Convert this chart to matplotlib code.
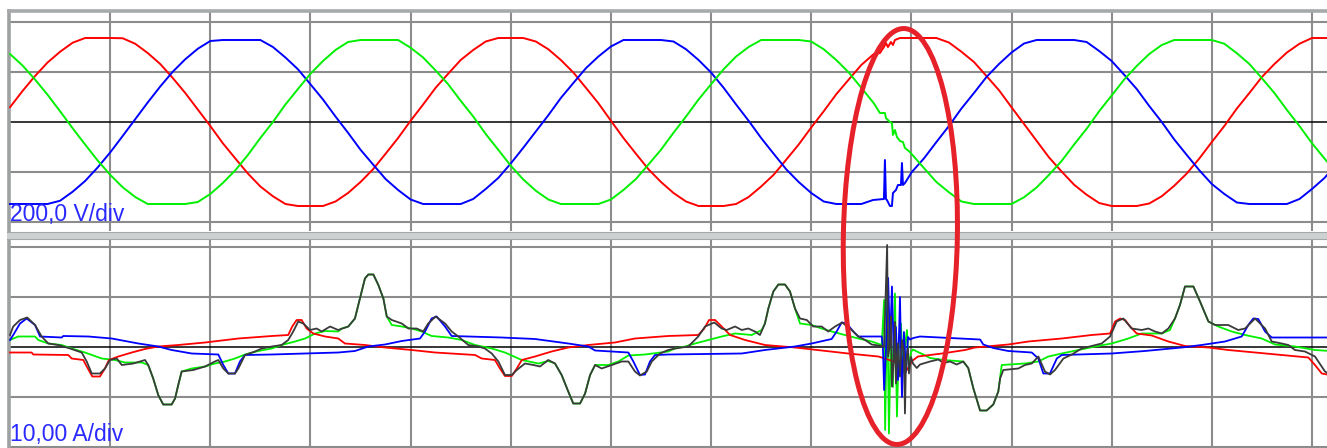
import numpy as np
import matplotlib
matplotlib.use("Agg")
import matplotlib.pyplot as plt
from matplotlib.patches import Ellipse, Rectangle
from matplotlib.transforms import IdentityTransform

# ------------------------------------------------------------------
# Phase-to-neutral voltages (V), one sample every 0.625 ms
# ------------------------------------------------------------------
T_STEP_V = 0.625
v_red = [59, 124, 184, 238, 281, 317, 336, 336, 336, 335, 313, 276, 232, 176, 116, 50,
         -16, -85, -146, -206, -258, -297, -328, -336, -336, -336, -318, -284, -240, -189,
         -127, -64, 5, 70, 137, 193, 248, 288, 322, 336, 336, 336, 322, 291, 248, 198,
         137, 75, 5, -64, -127, -189, -240, -284, -318, -336, -336, -336, -328, -300,
         -258, -211, -151, -90, -22, 43, 111, 170, 228, 272, 310, 336, 336, 336, 336, 318,
         281, 240, 184, 127, 59, -8, -75, -142, -198, -251, -291, -324, -336, -336, -336,
         -326, -297, -255, -206, -146, -80, -16, 54, 116, 180, 232, 278, 313, 336, 336, 336]
v_blue = [-328, -328, -328, -328, -315, -279, -236, -182, -122, -56, 11, 78, 142, 201,
          251, 293, 324, 328, 328, 328, 328, 300, 258, 211, 151, 90, 22, -43, -111, -170,
          -228, -272, -310, -328, -328, -328, -328, -308, -268, -224, -166, -103, -38, 27,
          96, 156, 215, 262, 302, 328, 328, 328, 328, 322, 291, 248, 198, 137, 70, 5,
          -64, -127, -189, -240, -284, -318, -328, -328, -328, -326, -294, -260, -202, -146,
          -80, -16, 54, 116, 180, 232, 278, 314, 328, 328, 328, 328, 320, 284, 244, 189,
          132, 64, 0, -70, -132, -193, -248, -288, -322, -328, -328, -328, -328, -308,
          -268, -224, -166]
v_green = [272, 226, 170, 109, 43, -25, -90, -154, -211, -261, -300, -328, -328, -328,
           -328, -320, -288, -244, -193, -132, -64, 0, 70, 132, 193, 244, 288, 320, 328,
           328, 328, 328, 297, 258, 206, 151, 85, 22, -48, -111, -175, -230, -275, -310,
           -328, -328, -328, -328, -310, -272, -228, -170, -111, -43, 22, 90, 151, 211,
           262, 300, 328, 328, 328, 328, 322, 291, 248, 198, 137, 75, 5, -60, -127, -184,
           -240, -281, -318, -328, -328, -328, -328, -301, -262, -211, -156, -90, -27, 43,
           106, 170, 224, 272, 308, 328, 328, 328, 328, 313, 275, 232, 175, 116, 48, -16,
           -85, -146, -206]

# Voltage detail during the switching transient (ms, V)
v_red_fault = [(43.43, 276), (43.63, 300), (43.73, 316), (43.83, 300), (43.98, 320),
               (44.08, 308), (44.18, 328), (44.43, 336), (44.93, 336)]
v_blue_fault = [(43.09, -312), (43.63, -308), (43.68, -152), (43.73, -308), (43.78, -312),
                (43.93, -336), (44.03, -336), (44.08, -284), (44.23, -272), (44.33, -252),
                (44.48, -252), (44.53, -164), (44.58, -252), (44.68, -244), (44.93, -212)]
v_green_fault = [(43.43, 36), (43.68, 36), (43.73, 16), (43.93, 0), (44.03, -4),
                 (44.08, -52), (44.18, -32), (44.28, -60), (44.43, -76), (44.58, -80),
                 (44.68, -104), (44.93, -120)]

# ------------------------------------------------------------------
# Currents (ms, A)
# ------------------------------------------------------------------
i_red = [
    (0.00, -1.1), (1.08, -1.1), (1.16, -1.5), (2.91, -1.6), (3.08, -2.3), (3.66, -2.6),
    (3.83, -3.9), (4.11, -5.9), (4.49, -5.9), (4.74, -4.3), (4.94, -2.6), (5.41, -1.9),
    (6.08, -1.1), (6.74, -0.4), (7.40, 0.1), (8.40, 0.4), (9.74, 0.9), (11.40, 1.7),
    (13.07, 2.2), (13.89, 2.4), (14.09, 4.1), (14.31, 5.4), (14.56, 5.4), (14.81, 3.7),
    (15.14, 2.7), (15.73, 2.1), (16.39, 1.7), (16.72, 0.7), (17.72, 0.4), (18.72, -0.1),
    (20.05, -0.6), (21.22, -1.1), (23.22, -1.6), (23.55, -2.3), (24.21, -2.6), (24.46, -4.3),
    (24.71, -5.8), (25.05, -5.8), (25.30, -4.3), (25.55, -2.6), (26.21, -1.9), (27.04, -0.9),
    (27.87, -0.1), (28.87, 0.4), (30.20, 0.9), (31.20, 1.7), (32.86, 2.2), (34.36, 2.4),
    (34.66, 3.7), (34.90, 5.4), (35.20, 5.4), (35.53, 4.1), (35.95, 2.4), (36.70, 1.4),
    (37.69, 0.4), (39.19, -0.1), (40.52, -0.7), (41.85, -1.3), (43.35, -1.9), (43.68, -2.3),
    (44.18, -3.0), (44.53, -4.8), (44.78, -4.6), (45.03, -2.8), (45.33, -1.9), (46.53, -1.3),
    (47.68, -0.6), (48.18, -0.1), (49.84, 0.5), (50.84, 1.1), (52.51, 1.7), (54.00, 2.4),
    (54.92, 2.7), (55.17, 5.1), (55.42, 5.7), (55.67, 5.4), (55.92, 4.1), (56.25, 2.7),
    (57.00, 2.3), (57.83, 1.1), (58.66, 0.2), (59.83, -0.1), (60.82, -0.6), (62.16, -1.1),
    (63.49, -1.6), (64.82, -2.1), (65.15, -3.6), (65.49, -5.3), (65.90, -5.6),
]
i_blue = [
    (0.00, 1.4), (0.16, 2.4), (0.50, 4.7), (0.83, 5.7), (1.25, 4.4), (1.50, 2.1),
    (2.58, 1.9), (2.66, 2.2), (3.91, 2.1), (5.08, 1.7), (6.41, 0.7), (7.40, 0.1),
    (8.07, -0.6), (9.07, -1.3), (10.40, -1.5), (10.65, -3.6), (10.90, -5.3), (11.23, -5.3),
    (11.48, -2.9), (11.73, -1.6), (13.07, -1.5), (14.73, -1.3), (16.39, -1.1), (17.22, -0.8),
    (17.89, 0.1), (18.72, 0.5), (19.56, 1.2), (20.47, 1.7), (20.72, 3.1), (21.05, 5.7),
    (21.30, 6.1), (21.72, 4.1), (22.05, 2.2), (24.55, 1.9), (26.21, 1.6), (27.87, 0.7),
    (28.87, 0.1), (29.21, -0.7), (30.87, -1.1), (31.12, -2.9), (31.45, -5.6), (31.70, -5.5),
    (31.95, -2.9), (32.20, -1.6), (32.86, -1.5), (36.53, -1.3), (37.69, -0.6), (39.19, 0.1),
    (40.02, 0.7), (41.02, 1.6), (41.27, 3.1), (41.52, 4.9), (41.77, 4.7), (42.10, 3.1),
    (42.35, 2.1), (43.52, 2.1),
    (43.58, 0.0), (43.64, -8.6), (43.74, 0.0), (43.84, 13.8), (43.93, 0.1), (44.03, 12.1),
    (44.13, -2.6), (44.23, 4.0), (44.33, -6.6), (44.43, 10.0), (44.53, -10.0), (44.63, 3.0),
    (44.73, -5.0), (44.83, 2.0), (44.93, 1.5),
    (45.10, 1.8), (45.43, 2.1), (48.43, 1.5), (48.59, 0.5), (49.09, -0.2), (49.84, -0.8),
    (51.01, -1.1), (51.34, -2.3), (51.59, -5.3), (51.92, -5.3), (52.26, -2.3), (52.51, -1.6),
    (55.00, -1.3), (56.66, -0.8), (58.50, -0.1), (59.49, 0.4), (60.66, 1.1), (61.49, 2.1),
    (61.82, 4.4), (62.07, 5.7), (62.32, 5.6), (62.66, 3.1), (62.99, 1.9), (65.90, 1.9),
]
i_green = [
    (0.00, 1.4), (0.41, 2.1), (1.25, 2.1), (1.41, 1.4), (1.91, 0.7), (2.58, 0.4),
    (3.08, -0.3), (3.74, -1.1), (4.58, -2.3), (5.24, -2.6), (5.74, -3.1), (6.58, -3.1),
    (6.90, -3.6), (7.15, -6.3), (7.40, -9.6), (7.65, -11.5), (8.07, -11.5), (8.24, -10.3),
    (8.40, -7.6), (8.57, -4.9), (9.07, -4.3), (9.74, -3.9), (10.23, -3.3), (10.73, -2.9),
    (11.23, -2.3), (11.73, -1.5), (12.40, -0.8), (13.07, -0.3), (13.56, 0.4), (14.23, 1.1),
    (14.73, 1.7), (15.23, 2.7), (15.73, 3.2), (16.39, 3.1), (16.56, 3.7), (16.89, 4.1),
    (17.22, 5.7), (17.47, 9.7), (17.72, 13.7), (17.89, 14.5), (18.14, 14.5), (18.39, 12.4),
    (18.64, 9.7), (18.81, 6.1), (19.06, 4.4), (19.56, 4.1), (20.05, 3.7), (20.55, 3.1),
    (21.05, 2.2), (21.88, 1.9), (22.55, 1.4), (23.22, 0.4), (24.05, -0.3), (24.71, -1.1),
    (25.55, -2.6), (26.38, -3.3), (26.87, -2.8), (27.21, -3.3), (27.54, -5.6), (27.87, -8.9),
    (28.12, -11.3), (28.46, -11.3), (28.71, -9.3), (28.96, -5.6), (29.21, -3.6), (29.87, -3.6),
    (30.37, -2.9), (30.87, -1.7), (31.70, -1.5), (32.86, -0.9), (33.20, -0.3), (33.70, 0.1),
    (34.20, 0.7), (34.86, 1.4), (35.53, 2.1), (36.20, 2.7), (37.03, 2.4), (37.53, 3.4),
    (37.69, 4.7), (37.86, 7.7), (38.11, 11.1), (38.36, 12.5), (38.69, 12.5), (38.94, 11.1),
    (39.19, 7.7), (39.44, 4.7), (40.02, 4.4), (40.52, 3.7), (41.02, 3.1), (41.69, 2.4),
    (42.35, 1.7), (43.02, 1.1), (43.52, 0.4),
    (43.64, 9.4), (43.69, -16.6), (43.79, 10.7), (43.88, -17.3), (43.98, 3.0), (44.08, -8.0),
    (44.18, 10.7), (44.28, -13.9), (44.38, 2.0), (44.48, 4.7), (44.58, -5.3), (44.68, 0.0),
    (44.78, 3.4), (44.88, -4.6), (44.98, -1.0), (45.08, -0.5),
    (45.27, -0.9), (45.60, -1.5), (45.93, -2.2), (46.43, -2.5), (46.93, -2.7), (47.59, -2.9),
    (47.84, -4.2), (48.09, -8.2), (48.43, -12.7), (48.76, -12.7), (49.09, -11.5), (49.34, -8.9),
    (49.51, -3.6), (50.67, -3.3), (51.34, -2.9), (51.84, -1.9), (52.51, -1.3), (53.34, -0.6),
    (54.17, 0.1), (55.00, 0.7), (55.83, 1.7), (56.50, 2.7), (57.50, 2.7), (57.91, 3.4),
    (58.16, 5.7), (58.41, 8.4), (58.66, 12.1), (59.08, 12.1), (59.41, 9.1), (59.83, 5.1),
    (60.32, 4.1), (60.99, 3.1), (61.66, 2.4), (62.49, 1.7), (63.16, 0.5), (64.15, 0.1),
    (65.15, -0.6), (65.90, -0.8),
]
i_sum = [
    (0.00, 2.4), (0.16, 4.1), (0.50, 5.4), (0.86, 5.9), (1.25, 4.4), (1.58, 2.1),
    (1.91, 0.7), (2.41, 0.4), (3.00, -0.3), (3.58, -1.1), (3.83, -2.9), (4.08, -5.3),
    (4.49, -5.3), (4.74, -4.3), (4.99, -2.6), (5.33, -2.3), (5.58, -3.6), (6.16, -3.3),
    (6.74, -2.6), (6.90, -3.6), (7.15, -6.3), (7.40, -9.6), (7.65, -11.5), (8.07, -11.5),
    (8.24, -10.3), (8.40, -7.6), (8.57, -4.9), (9.15, -4.6), (9.74, -3.9), (10.23, -2.9),
    (10.40, -2.6), (10.65, -4.3), (10.90, -5.3), (11.23, -5.3), (11.40, -4.3), (11.73, -1.6),
    (12.23, -0.9), (12.57, -0.3), (13.07, 0.1), (13.56, 0.4), (13.89, 1.4), (14.14, 3.1),
    (14.39, 5.1), (14.64, 4.7), (14.98, 3.4), (15.31, 3.7), (15.56, 3.1), (15.98, 4.1),
    (16.38, 3.4), (16.89, 4.1), (17.22, 5.7), (17.47, 9.7), (17.72, 13.7), (17.89, 14.5),
    (18.14, 14.5), (18.39, 12.4), (18.64, 9.7), (18.81, 6.1), (19.06, 5.4), (19.56, 4.7),
    (19.89, 3.7), (20.30, 3.7), (20.63, 3.1), (20.88, 4.7), (21.25, 6.1), (21.72, 4.7),
    (22.05, 3.1), (22.38, 2.1), (22.88, 0.4), (23.38, 0.1), (23.71, -0.3), (24.05, -1.3),
    (24.38, -2.9), (24.71, -5.6), (25.05, -5.6), (25.30, -4.6), (25.71, -3.3), (26.13, -3.6),
    (26.46, -3.9), (26.87, -2.6), (27.21, -3.3), (27.54, -5.6), (27.87, -8.9), (28.12, -11.3),
    (28.46, -11.3), (28.71, -9.3), (28.96, -5.6), (29.21, -3.6), (29.54, -4.3), (30.04, -3.6),
    (30.54, -2.9), (30.87, -2.9), (31.20, -4.9), (31.45, -5.7), (31.79, -4.9), (32.04, -2.9),
    (32.45, -1.3), (32.86, -0.6), (33.20, -0.3), (33.86, 0.1), (34.36, 2.1), (34.70, 4.1),
    (35.16, 4.9), (35.53, 3.7), (35.78, 3.4), (36.20, 4.1), (36.53, 3.4), (36.86, 3.7),
    (37.19, 3.1), (37.44, 2.4), (37.69, 4.7), (37.86, 7.7), (38.11, 11.1), (38.36, 12.5),
    (38.69, 12.5), (38.94, 11.1), (39.19, 7.7), (39.44, 5.7), (39.78, 5.4), (40.10, 4.1),
    (40.52, 4.1), (40.85, 3.1), (41.19, 4.1), (41.55, 4.9), (42.02, 3.4), (42.35, 2.1),
    (42.69, 1.4), (43.02, 0.5), (43.52, 0.2),
    (43.64, 0.0), (43.79, 20.4), (43.84, -1.9), (43.93, 0.5), (43.98, 6.1), (44.03, -7.9),
    (44.13, -2.0), (44.18, 5.0), (44.23, -7.3), (44.33, 0.7), (44.43, -5.9), (44.53, 1.4),
    (44.63, -1.0), (44.68, -13.3), (44.73, -3.0), (44.83, -0.3), (44.88, -5.3), (44.98, -2.0),
    (45.08, -3.3),
    (45.27, -4.2), (45.43, -3.5), (45.93, -2.9), (46.35, -2.5), (46.60, -3.2), (46.93, -2.9),
    (47.26, -3.5), (47.59, -2.9), (47.84, -4.2), (48.09, -8.2), (48.43, -12.7), (48.76, -12.7),
    (49.09, -11.5), (49.34, -8.9), (49.43, -6.3), (49.59, -4.6), (50.34, -4.3), (50.67, -3.6),
    (51.01, -3.3), (51.34, -1.9), (51.67, -4.9), (51.92, -5.5), (52.17, -4.6), (52.59, -2.3),
    (53.01, -1.5), (53.50, -0.3), (54.00, 0.2), (54.50, 0.7), (54.92, 2.1), (55.25, 5.1),
    (55.58, 5.7), (56.00, 3.7), (56.50, 3.4), (56.83, 3.7), (57.16, 3.1), (57.50, 2.7),
    (57.83, 3.7), (58.16, 5.7), (58.41, 8.4), (58.66, 12.1), (59.08, 12.1), (59.41, 9.1),
    (59.83, 5.1), (60.16, 4.4), (60.82, 4.4), (61.32, 3.4), (61.66, 3.7), (62.16, 5.7),
    (62.66, 3.7), (62.99, 1.1), (63.49, 0.7), (63.82, 0.4), (64.15, -0.6), (64.65, -0.9),
    (65.15, -1.9), (65.65, -4.9), (65.90, -5.5),
]

# Scope settings
MS_PER_DIV = 5.0
V_PER_DIV = 200.0
A_PER_DIV = 10.0
FAULT_T_MS = 44.45          # centre of the marked event

RED, BLUE, GREEN, DARK = "#ff0000", "#0000ff", "#00f000", "#3a3a3a"
GRID_C = "#8c8c8c"
FRAME_C = "#9ea2a2"


def with_transient(t, v, fault):
    """Replace the regular samples inside the transient window by the detailed ones."""
    t = np.asarray(t, float)
    v = np.asarray(v, float)
    ft, fv = np.asarray(fault, float).T
    keep = (t < ft.min()) | (t > ft.max())
    tt = np.concatenate([t[keep], ft])
    vv = np.concatenate([v[keep], fv])
    order = np.argsort(tt, kind="stable")
    return tt[order], vv[order]


W, H = 1327, 448
fig = plt.figure(figsize=(W / 100, H / 100), dpi=100)
fig.patch.set_facecolor("white")


def box(px0, py0, px1, py1):
    return [px0 / W, 1 - py1 / H, (px1 - px0) / W, (py1 - py0) / H]


ax_v = fig.add_axes(box(9, 11, W, 231))
ax_i = fig.add_axes(box(9, 240, W, H))

XLIM = (-0.05, 65.75)
for ax in (ax_v, ax_i):
    ax.set_xlim(*XLIM)
    ax.set_xticks(np.arange(MS_PER_DIV, XLIM[1], MS_PER_DIV))
    ax.tick_params(length=0, labelbottom=False, labelleft=False)
    ax.grid(True, color=GRID_C, lw=1.5)
    ax.set_axisbelow(True)
    ax.axhline(0, color="black", lw=1.1, zorder=1.5)
    for s in ("right", "bottom", "top"):
        ax.spines[s].set_visible(False)
    ax.spines["left"].set_color(FRAME_C)
    ax.spines["left"].set_linewidth(2.6)

ax_v.spines["top"].set_visible(True)
ax_v.spines["top"].set_color("#a6aaaa")
ax_v.spines["top"].set_linewidth(2.6)

ax_v.set_ylim(-436, 444)
ax_v.set_yticks([-2 * V_PER_DIV, -V_PER_DIV, V_PER_DIV, 2 * V_PER_DIV])
ax_i.set_ylim(-20.2, 21.4)
ax_i.set_yticks([-2 * A_PER_DIV, -A_PER_DIV, A_PER_DIV, 2 * A_PER_DIV])

# voltages
t_v = np.arange(len(v_red)) * T_STEP_V
for vals, fault, col in ((v_red, v_red_fault, RED),
                         (v_blue, v_blue_fault, BLUE),
                         (v_green, v_green_fault, GREEN)):
    tt, vv = with_transient(t_v, vals, fault)
    ax_v.plot(tt, vv, color=col, lw=1.4, zorder=3)

# currents
for pts, col, z in ((i_green, GREEN, 3), (i_red, RED, 4), (i_blue, BLUE, 4), (i_sum, DARK, 5)):
    tt, ii = np.asarray(pts, float).T
    ax_i.plot(tt, ii, color=col, lw=1.3, zorder=z)

# scale captions
ax_v.text(0.0, -396, "200,0 V/div", color="#2a2aff", fontsize=16.5,
          family="Liberation Sans", ha="left", va="baseline", zorder=6)
ax_i.text(0.0, -18.8, "10,00 A/div", color="#2a2aff", fontsize=16.5,
          family="Liberation Sans", ha="left", va="baseline", zorder=6)

# separator between the two trace windows
fig.add_artist(Rectangle((7 / W, 1 - 240 / H), 1, 8 / H, transform=fig.transFigure,
                         facecolor="#cdd1d1", edgecolor="none", zorder=10))
for py in (232.5, 239.5):
    fig.add_artist(plt.Line2D([7 / W, 1], [1 - py / H] * 2, transform=fig.transFigure,
                              color="#a4a8a8", lw=0.8, zorder=11))

# marker around the transient
cx = ax_v.transData.transform((FAULT_T_MS, 0))[0]
fig.add_artist(Ellipse((cx, H - 236.5), 114, 416, angle=-1.0, fill=False,
                       edgecolor="#e62129", lw=3.6, transform=IdentityTransform(),
                       zorder=20))

fig.savefig("out.png", dpi=100, facecolor="white")
